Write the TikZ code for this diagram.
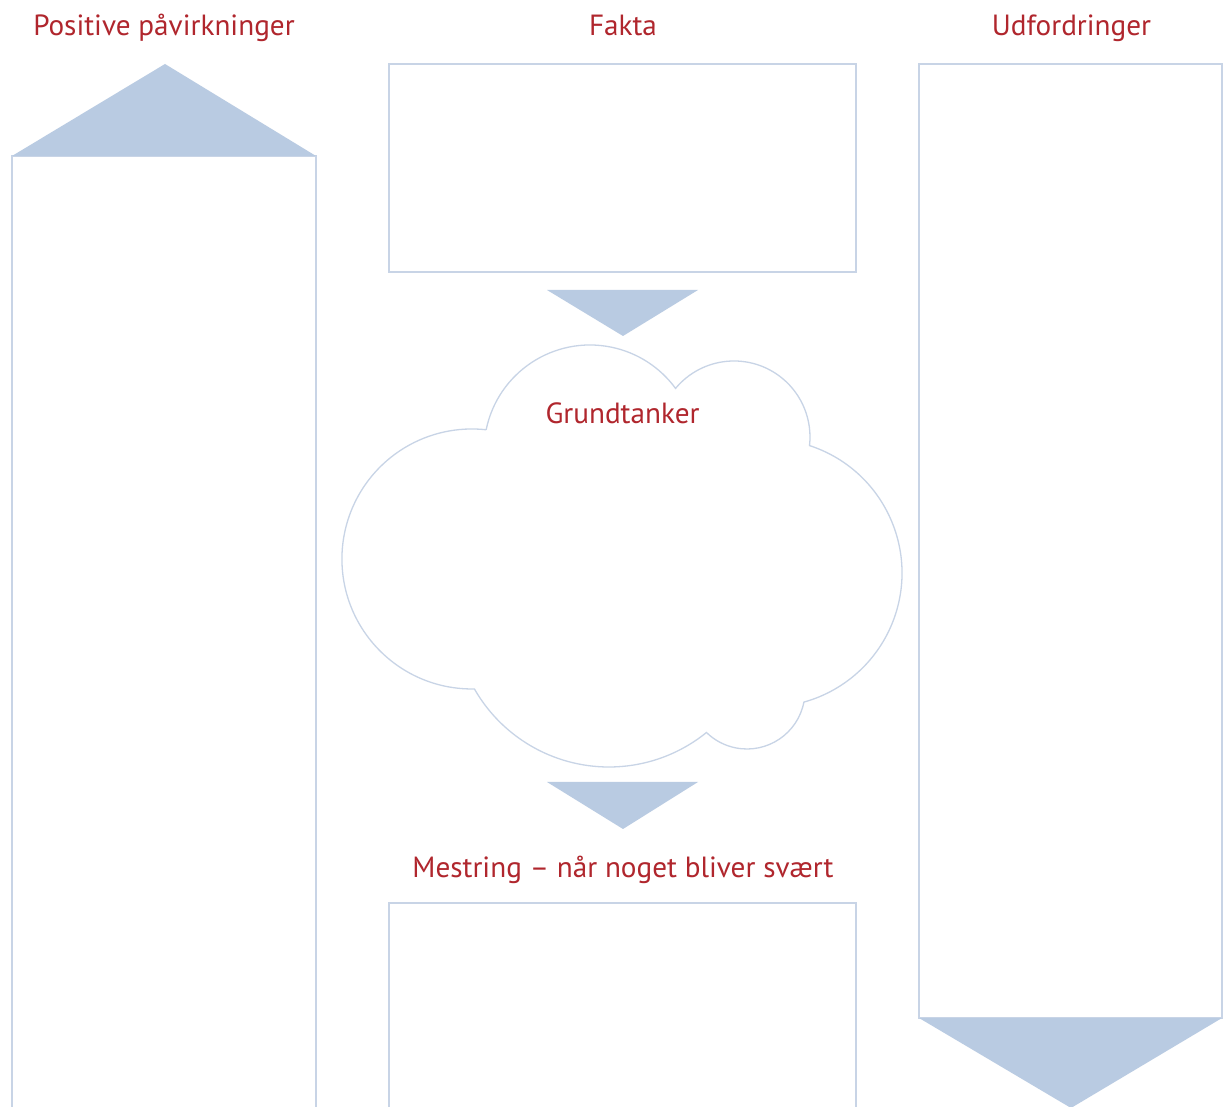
\documentclass[tikz,border=0pt]{standalone}
\usepackage{fontspec}
\setmainfont{PT Sans}
\definecolor{titlered}{RGB}{176,38,45}
\definecolor{frameblue}{RGB}{200,212,230}
\definecolor{arrowblue}{RGB}{185,203,226}
\begin{document}
\begin{tikzpicture}[x=1pt,y=1pt,
  frame/.style={draw=frameblue,line width=1.8pt,fill=white},
  cloudline/.style={draw=frameblue,line width=1.3pt},
  pointer/.style={fill=arrowblue,draw=none},
  heading/.style={text=titlered,font=\fontsize{29.2}{33}\selectfont,anchor=base,inner sep=0pt}]
\clip (0,0) rectangle (1223,1106);
\fill[white] (0,0) rectangle (1223,1106);

% left column with upward pointer
\draw[frame] (12,-10) rectangle (316,950);
\fill[pointer] (12,950) -- (316,950) -- (165,1042) -- cycle;

% middle: facts box and first pointer
\draw[frame] (389,834) rectangle (856,1042);
\fill[pointer] (547,816) -- (698,816) -- (623,770) -- cycle;

% right column with downward pointer
\draw[frame] (919,88) rectangle (1222,1042);
\fill[pointer] (919,88) -- (1222,88) -- (1071,-2) -- cycle;

% thought cloud built from six circular lobes
\draw[cloudline]
  (590,655) ++(168.45:106)
  arc[start angle=168.45,end angle=36.19,radius=106pt]
  arc[start angle=140.27,end angle=-6.50,radius=76pt]
  arc[start angle=71.96,end angle=-74.46,radius=134pt]
  arc[start angle=-11.04,end angle=-134.3,radius=58pt]
  arc[start angle=-51.02,end angle=-150.24,radius=155pt]
  arc[start angle=-88.9,end angle=-276.25,radius=130pt];

% second pointer and coping box
\fill[pointer] (547,324) -- (698,324) -- (623,277) -- cycle;
\draw[frame] (389,-10) rectangle (856,203);

% headings
\node[heading] (positive) at (164,1070) {Positive påvirkninger};
\node[heading] (fakta) at (623,1070) {Fakta};
\node[heading] (udfordringer) at (1071.5,1070) {Udfordringer};
\node[heading] (grundtanker) at (622.5,682) {Grundtanker};
\node[heading] (mestring) at (623,228) {Mestring – når noget bliver svært};
\end{tikzpicture}
\end{document}
